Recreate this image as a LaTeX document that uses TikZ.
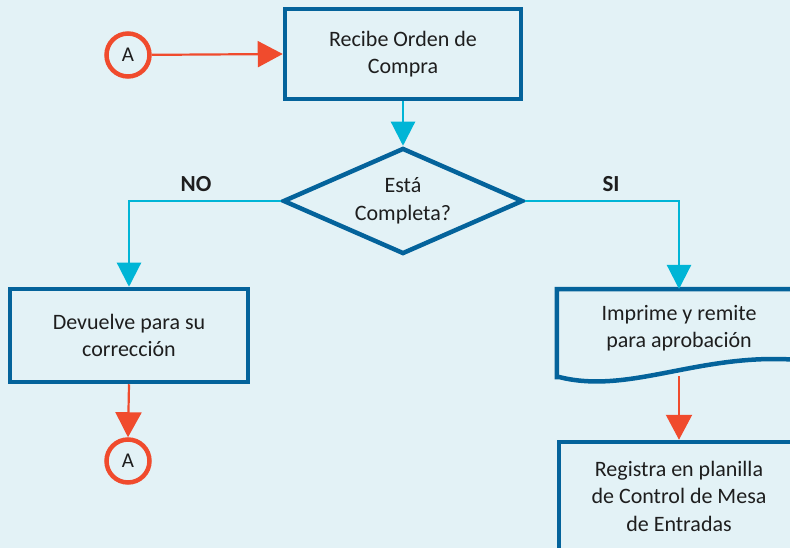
\documentclass[tikz,border=0pt]{standalone}
\usepackage{fontspec}
\setmainfont{Carlito}
\usetikzlibrary{shapes.geometric,arrows.meta}

\definecolor{fondo}{RGB}{227,242,246}
\definecolor{azul}{RGB}{4,99,155}
\definecolor{celeste}{RGB}{0,181,214}
\definecolor{rojo}{RGB}{240,75,45}
\definecolor{texto}{RGB}{30,30,30}

\tikzset{
  caja/.style={draw=azul, line width=4.5pt, align=center, text=texto,
    font=\fontsize{22}{27.5}\selectfont},
  rombo/.style={draw=azul, line width=4.5pt, diamond, inner sep=0pt,
    minimum width=240pt, minimum height=106pt},
  leyenda/.style={align=center, text=texto, font=\fontsize{22}{27.5}\selectfont},
  conector/.style={circle, draw=rojo, line width=4.5pt, minimum size=43pt, inner sep=0pt,
    text=texto, font=\fontsize{21}{24}\selectfont},
  flechaazul/.style={draw=celeste, line width=2.2pt, -{Triangle[length=24pt,width=24pt]}},
  flecharoja/.style={draw=rojo, line width=2.2pt, -{Triangle[length=25pt,width=26pt]}},
  etiqueta/.style={text=texto, font=\fontsize{23}{26}\selectfont\bfseries}
}

\begin{document}
\begin{tikzpicture}[x=1pt, y=-1pt]
    \fill[fondo] (0,0) rectangle (790,548);
    \useasboundingbox (0,0) rectangle (790,548);
    \clip (0,0) rectangle (790,548);

    % bloques
    \node[caja, minimum width=236pt, minimum height=90pt] (orden) at (403,54) {Recibe Orden de\\Compra};
    \node[rombo] (completa) at (403,201) {};
    \node[leyenda] (pregunta) at (completa) {Está\\Completa?};
    \node[caja, minimum width=238pt, minimum height=93pt] (devuelve) at (129,335.5) {Devuelve para su\\corrección};
    \node[caja, draw=none, minimum width=240pt, minimum height=82pt] (imprime) at (679,328) {Imprime y remite\\para aprobación};
    \draw[azul, line width=4.5pt, line join=miter]
        (imprime.south west |- 0,377) -- (imprime.north west |- 0,289) -- (imprime.north east |- 0,289) -- (799,360)
        .. controls (700,352) and (630,395) .. (559,377) -- cycle;
    \node[caja, minimum width=240pt, minimum height=108pt] (registra) at (679,496) {Registra en planilla\\de Control de Mesa\\de Entradas};

    \node[conector] (a1) at (128,55) {A};
    \node[conector] (a2) at (128,461) {A};

    % conexiones
    \draw[flecharoja] (a1) -- (orden.west);
    \draw[flechaazul] (orden.south) -- (completa.north);
    \draw[flechaazul] (completa.west) -| (devuelve.north);
    \draw[flechaazul] (completa.east) -| (imprime.north |- 0,289);
    \draw[flecharoja] (imprime.south |- 0,376) -- (registra.north);
    \draw[flecharoja] (devuelve.south) -- (a2.north);

    \node[etiqueta] (no) at (196,184) {NO};
    \node[etiqueta] (si) at (611,184) {SI};
\end{tikzpicture}
\end{document}
